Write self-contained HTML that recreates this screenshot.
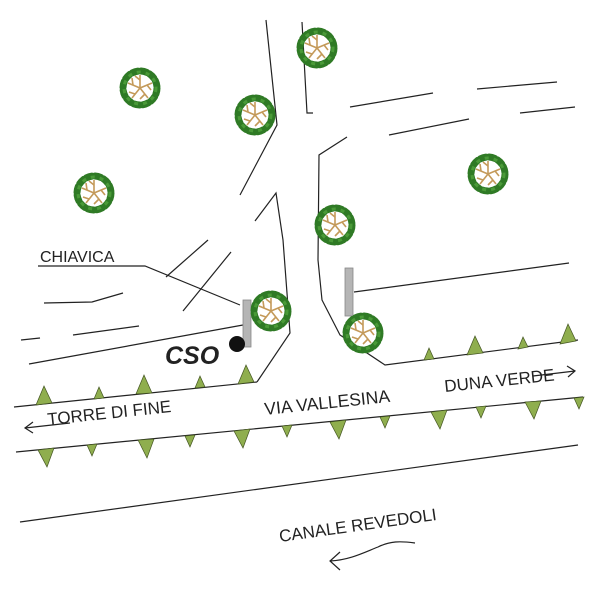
<!DOCTYPE html>
<html><head><meta charset="utf-8"><style>
html,body{margin:0;padding:0;background:#fff;}
svg{display:block;}
text{font-family:"Liberation Sans",sans-serif;fill:#222;}
</style></head><body>
<svg width="600" height="600" viewBox="0 0 600 600" xmlns="http://www.w3.org/2000/svg">
<defs>
<g id="tree">
  <circle r="17" fill="none" stroke="#2f7a25" stroke-width="7" stroke-dasharray="6 3" stroke-linecap="round"/>
  <circle r="16" fill="none" stroke="#4a9a38" stroke-width="3" stroke-dasharray="4 5"/>
  <circle r="12" fill="#fff"/>
  <g stroke="#c49a5a" stroke-width="1.6" fill="none">
    <path d="M0 0 L0 -13 M0 0 L12 -5 M0 0 L8 10 M0 0 L-8 10 M0 0 L-12 -5"/>
    <path d="M0 -8 L-5 -12 M7 -3 L11 2 M5 6 L0 11 M-5 6 L-11 4 M-7 -3 L-8 -10"/>
  </g>
</g>
</defs>
<g stroke="#222" stroke-width="1.2" fill="none">
  <polyline points="266,20 277,125 240,195"/>
  <polyline points="302,22 307,113 313,113"/>
  <polyline points="347,137 319,155 318,260 322,300 340,335 385,365 578,340"/>
  <polyline points="255,221 276,193 283,240 290,333 257,382"/>
  <line x1="14" y1="407" x2="257" y2="382"/>
  <line x1="16" y1="452" x2="583" y2="397"/>
  <line x1="20" y1="522" x2="578" y2="445"/>
  <polyline points="44,303 92,302 123,293"/>
  <line x1="73" y1="335" x2="139" y2="326"/>
  <line x1="21" y1="340" x2="40" y2="338"/>
  <line x1="29" y1="364" x2="243" y2="325"/>
  <line x1="166" y1="277" x2="208" y2="240"/>
  <line x1="183" y1="311" x2="231" y2="252"/>
  <line x1="350" y1="107" x2="433" y2="93"/>
  <line x1="477" y1="89" x2="557" y2="82"/>
  <line x1="389" y1="135" x2="469" y2="119"/>
  <line x1="520" y1="113" x2="575" y2="107"/>
  <line x1="354" y1="292" x2="569" y2="263"/>
  <polyline points="38,266 145,266 240,305"/>
</g>
<rect x="243" y="300" width="8" height="47" fill="#b5b5b5" stroke="#888" stroke-width="0.8"/>
<rect x="345" y="268" width="8" height="48" fill="#b5b5b5" stroke="#888" stroke-width="0.8"/>
<circle cx="237" cy="344" r="8" fill="#111"/>
<use href="#tree" x="140" y="88"/>
<use href="#tree" x="255" y="115"/>
<use href="#tree" x="317" y="48"/>
<use href="#tree" x="94" y="193"/>
<use href="#tree" x="488" y="174"/>
<use href="#tree" x="335" y="225"/>
<use href="#tree" x="271" y="311"/>
<use href="#tree" x="363" y="333"/>
<g fill="#8fae4e" stroke="#445522" stroke-width="0.7">
  <polygon points="36,405 52,403 44,386"/>
  <polygon points="94,399 104,398 99,387"/>
  <polygon points="136,394 152,393 144,375"/>
  <polygon points="195,388 205,387 200,376"/>
  <polygon points="238,384 254,382 246,365"/>
  <polygon points="424,360 434,359 429,348"/>
  <polygon points="467,355 483,353 475,336"/>
  <polygon points="518,349 528,347 523,337"/>
  <polygon points="560,344 576,341 568,324"/>
  <polygon points="38,450 54,448 47,467"/>
  <polygon points="87,445 97,444 92,456"/>
  <polygon points="138,440 154,439 147,458"/>
  <polygon points="185,436 195,435 190,447"/>
  <polygon points="234,431 250,429 243,448"/>
  <polygon points="282,426 292,425 287,437"/>
  <polygon points="330,422 346,420 339,439"/>
  <polygon points="380,417 390,416 385,428"/>
  <polygon points="431,412 447,410 440,429"/>
  <polygon points="476,407 486,406 481,418"/>
  <polygon points="525,402 541,401 534,419"/>
  <polygon points="574,398 584,397 579,409"/>
</g>
<text x="40" y="262" font-size="16">CHIAVICA</text>
<text x="165" y="364" font-size="25" font-weight="bold" font-style="italic" fill="#111">CSO</text>
<text x="48" y="425" font-size="17" transform="rotate(-6 48 425)">TORRE DI FINE</text>
<text x="265" y="415" font-size="17.5" transform="rotate(-6 265 415)">VIA VALLESINA</text>
<text x="445" y="392" font-size="17" transform="rotate(-6 445 392)">DUNA VERDE</text>
<text x="280" y="542" font-size="17" transform="rotate(-8 280 542)">CANALE REVEDOLI</text>
<g stroke="#222" stroke-width="1.2" fill="none">
  <line x1="25" y1="428" x2="70" y2="423"/>
  <polyline points="33,422 25,428 33,433"/>
  <line x1="533" y1="376" x2="575" y2="371"/>
  <polyline points="567,366 575,371 568,377"/>
  <path d="M330 561 C350 560 365 552 378 547 C390 541 400 541 415 543"/>
  <polyline points="340,552 330,561 340,570"/>
</g>
</svg>
</body></html>
